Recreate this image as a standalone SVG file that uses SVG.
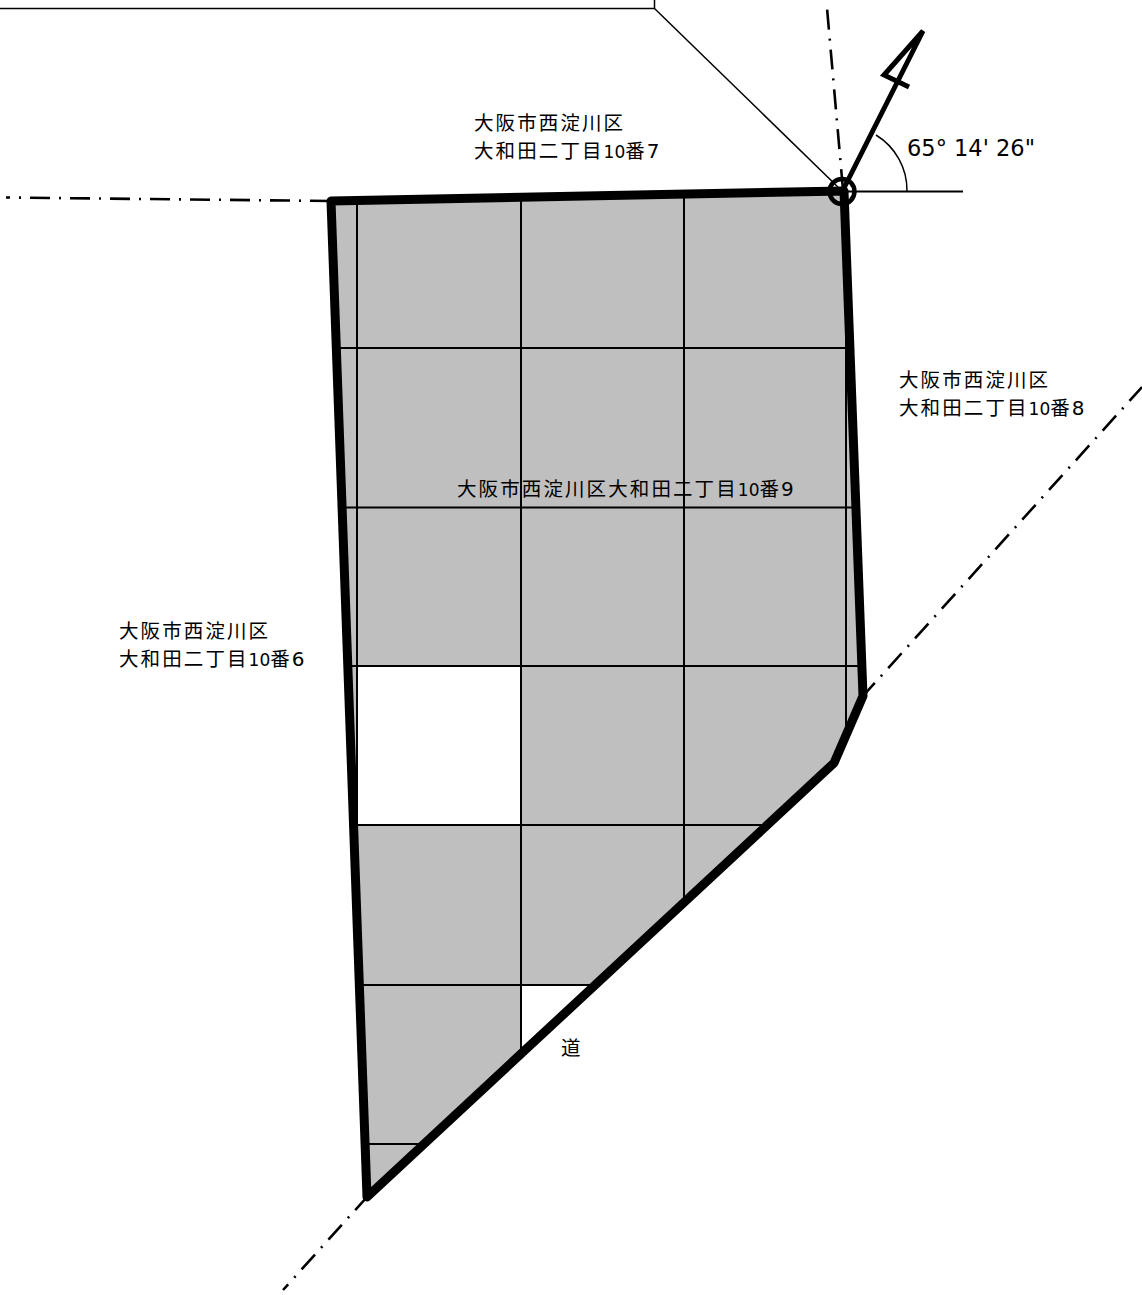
<svg xmlns="http://www.w3.org/2000/svg" width="1142" height="1295" viewBox="0 0 1142 1295">
<style>
.g{fill:none;stroke:#000;stroke-width:2}
.t{fill:none;stroke:#000;stroke-width:1.5}
.d{fill:none;stroke:#000;stroke-width:2.6;stroke-dasharray:20 9 2 9;stroke-dashoffset:-1}
.e{stroke-dashoffset:2.400}
.b{fill:none;stroke:#000;stroke-width:9;stroke-linejoin:round}
.l{font-family:"Noto Sans CJK JP","DejaVu Sans",sans-serif;font-size:19.500px;letter-spacing:2.100px;fill:#000}
.n{font-family:"DejaVu Sans",sans-serif;font-size:17px;letter-spacing:0}
.m{font-family:"DejaVu Sans",sans-serif;font-size:20px;letter-spacing:0}
</style>
<rect width="1142" height="1295" fill="#fff"/>
<path id="parcel-fill" d="M331 201L844 191L863 696L834 763L367 1197Z" fill="#bfbfbf"/>
<path id="white-cell-a" d="M357 667H521V825H357Z" fill="#fff"/>
<path id="white-cell-b" d="M521 985H592L521 1052Z" fill="#fff"/>
<g id="grid">
<path class="g" d="M357 201V825M521 197V1050M684 195V905M846 193V735"/>
<path class="g" d="M336 348H849M342 507.500H859M348 666H860M355 825H765M360 985H590M366 1144H420"/>
</g>
<g id="connectors">
<path class="t" d="M0 8.500H654.500V0M654 8L842 191"/>
<path class="d" d="M331 201L6 197.500"/>
<path class="d" d="M843 190L827 8"/>
<path class="d e" d="M863 696L1142 387"/>
<path class="d e" d="M367 1197L283 1290"/>
</g>
<path id="parcel-outline" class="b" d="M331 201L844 191L863 696L834 763L367 1197Z"/>
<g id="bearing">
<circle cx="842" cy="191.500" r="12.500" fill="none" stroke="#000" stroke-width="4.500"/>
<path class="g" d="M842 191.500H963"/>
<path class="t" d="M876 135A65 65 0 0 1 907 191"/>
<path fill="none" stroke="#000" stroke-width="5" d="M843 190L923 31L884 75L909 87"/>
</g>
<text class="l" x="474" y="130">大阪市西淀川区</text>
<text class="l" x="474" y="158">大和田二丁目<tspan class="n">10</tspan>番<tspan class="m">7</tspan></text>
<text class="l" x="899" y="387">大阪市西淀川区</text>
<text class="l" x="899" y="415">大和田二丁目<tspan class="n">10</tspan>番<tspan class="m">8</tspan></text>
<text class="l" x="457" y="496">大阪市西淀川区大和田二丁目<tspan class="n">10</tspan>番<tspan class="m">9</tspan></text>
<text class="l" x="119" y="638">大阪市西淀川区</text>
<text class="l" x="119" y="666">大和田二丁目<tspan class="n">10</tspan>番<tspan class="m">6</tspan></text>
<text class="l" x="561" y="1055">道</text>
<text x="907" y="156" font-family="'DejaVu Sans',sans-serif" font-size="22.500" fill="#000">65° 14' 26"</text>
</svg>
